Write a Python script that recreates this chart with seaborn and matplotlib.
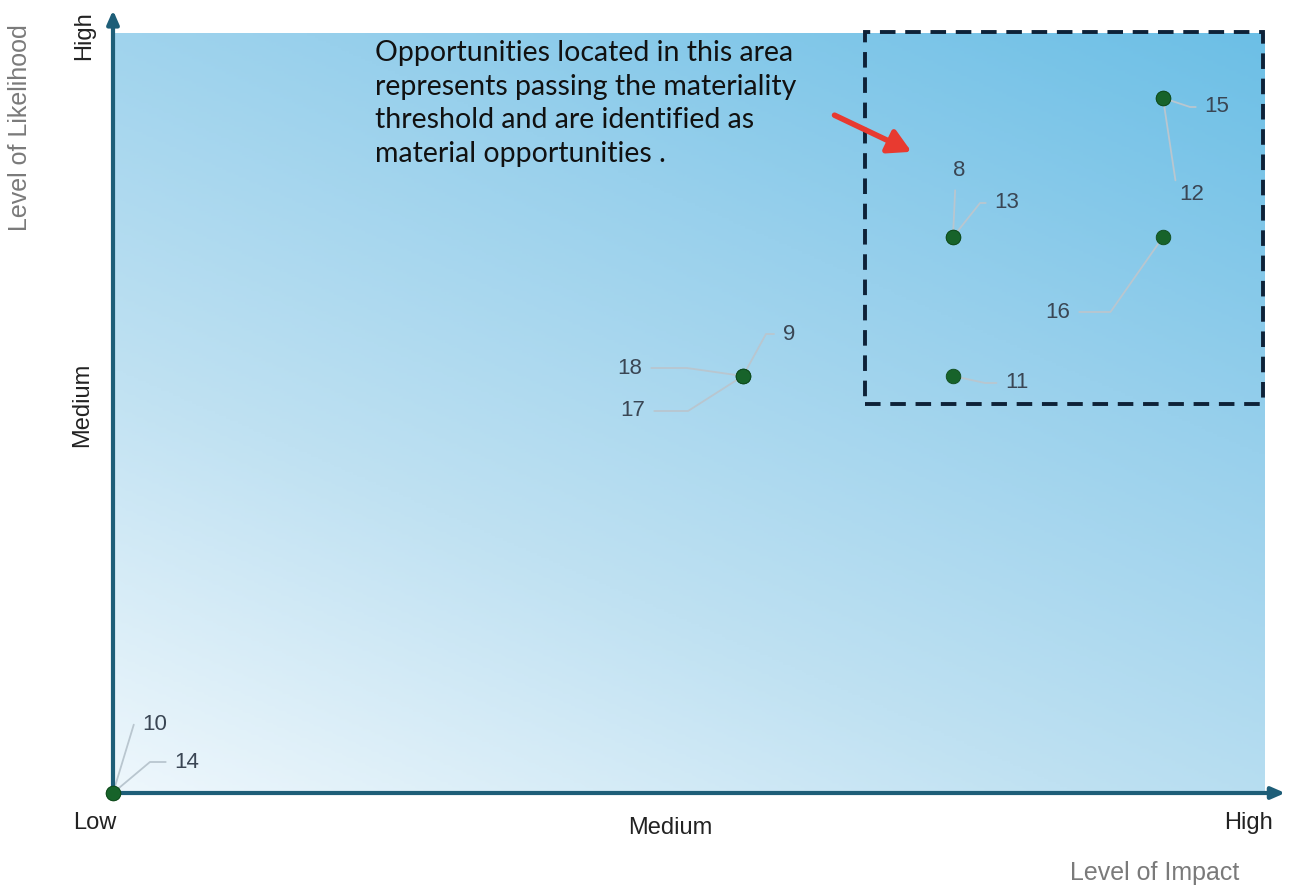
import numpy as np
import pandas as pd
import matplotlib
matplotlib.use("Agg")
import matplotlib.pyplot as plt
import matplotlib.patches as mpatches
import seaborn as sns
from matplotlib.colors import LinearSegmentedColormap

# ---- data ----
ids = ["10", "14", "9", "18", "17", "8", "13", "11", "15", "12", "16"]
impact = [0, 0, 3, 3, 3, 4, 4, 4, 5, 5, 5]
likelihood = [0, 0, 3, 3, 3, 4, 4, 3, 5, 5, 4]
x_tick_labels = ["Low", "Medium", "High"]
y_tick_labels = ["", "Medium", "High"]
material_box = (3.58, 2.8)  # lower-left corner of threshold area
note = ("Opportunities located in this area\nrepresents passing the materiality\n"
        "threshold and are identified as\nmaterial opportunities .")

# label offsets (pixels) for annotation layout
offsets = {"10": (42, 69), "14": (74, 31), "9": (46, 42), "18": (-113, 8),
           "17": (-110, -35), "8": (6, 66), "13": (54, 34), "11": (64, -7),
           "15": (54, -9), "12": (29, -96), "16": (-105, -75)}

df = pd.DataFrame({"id": ids, "impact": impact, "likelihood": likelihood})

sns.set_style("white")
plt.rcParams["font.family"] = ["Liberation Sans", "DejaVu Sans"]

W, H = 1290, 888
fig = plt.figure(figsize=(W / 100, H / 100), dpi=100)
x0, x1, ytop, ybot = 113, 1265, 33, 793
ax = fig.add_axes([x0 / W, 1 - ybot / H, (x1 - x0) / W, (ybot - ytop) / H])
XMAX = (x1 - x0) / 210.0
YMAX = (ybot - ytop) / 139.0
ax.set_xlim(0, XMAX)
ax.set_ylim(0, YMAX)

# gradient background
cmap = LinearSegmentedColormap.from_list(
    "bg", ["#EEF7FC", "#BFE1F2", "#98D0EC", "#6CBFE6"])
gx, gy = np.meshgrid(np.linspace(0, 1, 300), np.linspace(0, 1, 300))
grad = 0.4 * gx + 0.6 * gy
ax.imshow(grad, extent=[0, XMAX, 0, YMAX], origin="lower", cmap=cmap,
          aspect="auto", zorder=0, vmin=0, vmax=1)

for s in ax.spines.values():
    s.set_visible(False)
ax.set_xticks([])
ax.set_yticks([])

# axes arrows
axis_col = "#1E5E78"
ax.annotate("", xy=(1.0175, 0), xycoords="axes fraction", xytext=(0, 0),
            arrowprops=dict(arrowstyle="-|>,head_length=0.8,head_width=0.35",
                            color=axis_col, lw=3, shrinkA=0, shrinkB=0),
            annotation_clip=False, zorder=5)
ax.annotate("", xy=(0, 1.03), xycoords="axes fraction", xytext=(0, 0),
            arrowprops=dict(arrowstyle="-|>,head_length=0.8,head_width=0.35",
                            color=axis_col, lw=3, shrinkA=0, shrinkB=0),
            annotation_clip=False, zorder=5)

# threshold box
ax.add_patch(plt.Rectangle(material_box, XMAX - material_box[0] - 0.01,
                           YMAX - material_box[1] + 0.01, fill=False,
                           ls=(0, (4, 2.5)), lw=2.8, ec="#0E2238", zorder=3,
                           clip_on=False))

# leader lines and labels
for _, r in df.iterrows():
    dx, dy = offsets[r["id"]]
    angB = np.degrees(np.arctan2(dy, dx * 0.5))
    ax.annotate(r["id"], xy=(r["impact"], r["likelihood"]),
                xytext=(dx, dy), textcoords="offset pixels",
                ha="center", va="center", fontsize=16, color="#3A4654",
                arrowprops=dict(arrowstyle="-", color="#B9C6CF", lw=1.3,
                                shrinkA=4, shrinkB=4,
                                connectionstyle=f"angle,angleA=0,angleB={angB:.1f},rad=0"),
                annotation_clip=False, zorder=4)

sns.scatterplot(data=df, x="impact", y="likelihood", ax=ax, s=110,
                color="#17632A", edgecolor="#0F4A1C", linewidth=0.6,
                zorder=6, clip_on=False, legend=False)
ax.set_xlabel("")
ax.set_ylabel("")

# tick labels
tick_col = "#222222"
fs_tick = 17
fig.text(95 / W, 1 - 823 / H, x_tick_labels[0], ha="center", va="center",
         fontsize=fs_tick, color=tick_col)
fig.text(670 / W, 1 - 828 / H, x_tick_labels[1], ha="center", va="center",
         fontsize=fs_tick, color=tick_col)
fig.text(1248 / W, 1 - 823 / H, x_tick_labels[2], ha="center", va="center",
         fontsize=fs_tick, color=tick_col)
fig.text(82 / W, 1 - 405 / H, y_tick_labels[1], ha="center", va="center",
         fontsize=fs_tick, color=tick_col, rotation=90)
fig.text(84 / W, 1 - 36 / H, y_tick_labels[2], ha="center", va="center",
         fontsize=fs_tick, color=tick_col, rotation=90)

# axis titles
fig.text(1155 / W, 1 - 873 / H, "Level of Impact", ha="center", va="center",
         fontsize=18, color="#7A7A7A")
fig.text(20 / W, 1 - 128 / H, "Level of Likelihood", ha="center",
         va="center", fontsize=18, color="#7A7A7A", rotation=90)

# note and red arrow
fig.text(375 / W, 1 - 40 / H, note, ha="left", va="top", fontsize=20.5,
         family=["Lato", "DejaVu Sans"], color="#111111", linespacing=1.36)
fig.patches.append(mpatches.FancyArrowPatch(
    (832 / W, 1 - 114 / H), (914 / W, 1 - 153 / H),
    transform=fig.transFigure, arrowstyle="-|>,head_length=0.9,head_width=0.5",
    color="#E83A30", lw=4, mutation_scale=15))

fig.savefig("out.png", dpi=100)
